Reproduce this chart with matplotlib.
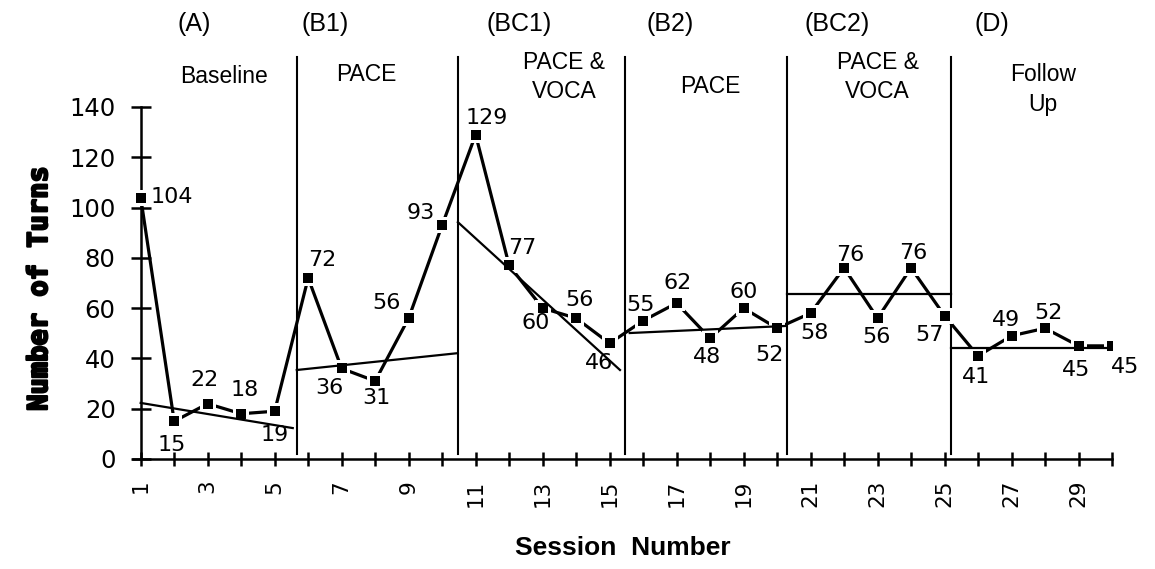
import numpy as np
import matplotlib
matplotlib.use("Agg")
import matplotlib.pyplot as plt
import matplotlib.patheffects as pe

# Sitzungen und Anzahl der Turns
sessions = list(range(1, 31))
turns = [104, 15, 22, 18, 19, 72, 36, 31, 56, 93,
         129, 77, 60, 56, 46, 55, 62, 48, 60, 52,
         58, 76, 56, 76, 57, 41, 49, 52, 45, 45]

# Phasengrenzen (zwischen den Sitzungen)
phase_bounds = [5.66, 10.47, 15.46, 20.3, 25.19]

# Phasenbeschriftungen
phase_codes = ["(A)", "(B1)", "(BC1)", "(B2)", "(BC2)", "(D)"]
phase_names = ["Baseline", "PACE", "PACE &\nVOCA", "PACE", "PACE &\nVOCA", "Follow\nUp"]

# Trendlinien je Phase (Anfang / Ende)
trend_x0 = [1.0, 5.66, 10.47, 15.6, 20.3, 25.19]
trend_x1 = [5.54, 10.47, 15.31, 20.24, 25.19, 30.0]
trend_y0 = [22.3, 35.4, 94.2, 50.1, 65.6, 44.1]
trend_y1 = [12.3, 42.1, 35.4, 52.9, 65.6, 44.1]

# Versatz der Wertebeschriftungen in Pixeln
label_dx = [31, -2, -3, 4, 0, 14, -12, 1, -22, -21,
            11, 13, -7, 3, -11, -3, 1, -3, 0, -8,
            4, 6, -1, 2, -15, -2, -5, 3, -2, 13]
label_dy = [1, -24, 24, 24, -24, 18, -20, -17, 15, 12,
            17, 17, -15, 18, -20, 16, 20, -19, 16, -27,
            -20, 13, -19, 15, -19, -21, 16, 15, -24, -21]

num_font = "DejaVu Sans"
txt_font = "Liberation Sans"

fig = plt.figure(figsize=(11.55, 5.69), dpi=100)
ax = fig.add_axes([133 / 1155, 1 - 459 / 569, (1112 - 133) / 1155, 352 / 569])

# Datenlinie mit Lücken um die Marker
ax.plot(sessions, turns, color="black", lw=2.3, zorder=3)
ax.plot(sessions, turns, ls="none", marker="s", ms=11, mfc="white",
        mec="white", mew=0, zorder=4)

# Trendlinien
for x0, x1, y0, y1 in zip(trend_x0, trend_x1, trend_y0, trend_y1):
    ax.plot([x0, x1], [y0, y1], color="black", lw=1.6, zorder=5)

ax.plot(sessions, turns, ls="none", marker="s", ms=7.5, mfc="black",
        mec="black", mew=0, zorder=6)

# Phasenlinien
for b in phase_bounds:
    ax.plot([b, b], [2, 160], color="black", lw=1.5, clip_on=False, zorder=2)

# Wertebeschriftungen
for x, y, dx, dy in zip(sessions, turns, label_dx, label_dy):
    ax.annotate(str(y), (x, y), xytext=(dx, dy), textcoords="offset pixels",
                ha="center", va="center", fontsize=16, family=num_font,
                zorder=7)

# Phasentitel
code_x = [2.61, 6.5, 12.3, 16.8, 21.8, 26.4]
name_x = [3.5, 7.75, 13.65, 18.0, 23.0, 27.95]
name_y = [152, 153, 152, 148, 152, 147]
for cx, nx, ny, code, name in zip(code_x, name_x, name_y, phase_codes, phase_names):
    ax.text(cx, 173, code, ha="center", va="center", fontsize=18,
            family=txt_font, clip_on=False)
    ax.text(nx, ny, name, ha="center", va="center", fontsize=16.5,
            family=txt_font, linespacing=1.35, clip_on=False)

# Achsen
ax.set_xlim(0.77, 30)
ax.set_ylim(0, 140)
ax.spines["top"].set_visible(False)
ax.spines["right"].set_visible(False)
ax.spines["left"].set_position(("data", 1))
ax.spines["left"].set_linewidth(1.8)
ax.spines["bottom"].set_linewidth(1.8)

ax.set_yticks(np.arange(0, 141, 20))
ax.tick_params(axis="y", direction="inout", length=14, width=1.8,
               labelsize=17.5, pad=11)
ax.set_xticks(sessions)
ax.set_xticklabels([str(s) if s % 2 == 1 else "" for s in sessions],
                   rotation=90, va="top")
ax.tick_params(axis="x", direction="inout", length=10, width=1.8,
               labelsize=15.5, pad=10)
for lbl in ax.get_yticklabels() + ax.get_xticklabels():
    lbl.set_family(num_font)

fig.text(40 / 1155, 1 - 288 / 569, "Number of Turns", rotation=90,
         ha="center", va="center", fontsize=19.5, fontweight="bold",
         family="DejaVu Sans Mono",
         path_effects=[pe.withStroke(linewidth=1.6, foreground="black")])
fig.text(623 / 1155, 1 - 548 / 569, "Session  Number", ha="center",
         va="center", fontsize=19, fontweight="bold", family=txt_font)

fig.savefig("out.png", dpi=100)
